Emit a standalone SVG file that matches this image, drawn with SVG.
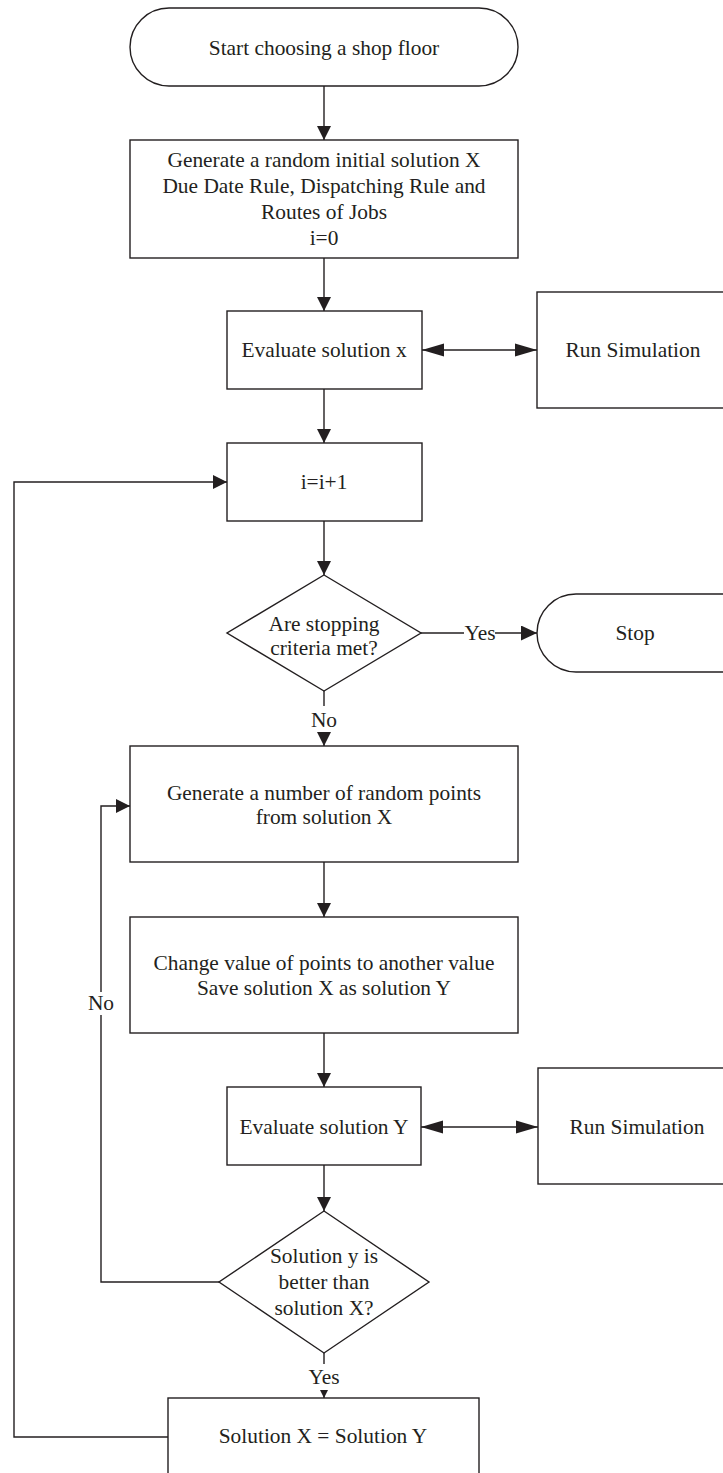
<svg xmlns="http://www.w3.org/2000/svg" width="723" height="1473" viewBox="0 0 723 1473">
<style>
.n{fill:#fff;stroke:#231f20;stroke-width:1.4}
.t{font-family:"Liberation Serif","Times New Roman",serif;font-size:21.4px;fill:#231f20;text-anchor:middle}
.c{fill:none;stroke:#231f20;stroke-width:1.4}
</style>
<defs>
<marker id="a" markerUnits="userSpaceOnUse" markerWidth="14" markerHeight="14" refX="14" refY="7" orient="auto"><path d="M0,0 L14,7 L0,14 z" fill="#231f20"/></marker>
<marker id="al" markerUnits="userSpaceOnUse" markerWidth="22" markerHeight="14" refX="22" refY="7" orient="auto-start-reverse"><path d="M0,0.5 L22,7 L0,13.5 z" fill="#231f20"/></marker>
<marker id="am" markerUnits="userSpaceOnUse" markerWidth="16" markerHeight="15" refX="16" refY="7.5" orient="auto"><path d="M0,0 L16,7.5 L0,15 z" fill="#231f20"/></marker>
<marker id="as" markerUnits="userSpaceOnUse" markerWidth="8" markerHeight="8" refX="8" refY="4" orient="auto"><path d="M0,0 L8,4 L0,8 z" fill="#231f20"/></marker>
</defs>
<g id="connectors">
<path class="c" d="M324,86 V140" marker-end="url(#a)"/>
<path class="c" d="M324,258 V311" marker-end="url(#a)"/>
<path class="c" d="M422,350 H537" marker-start="url(#al)" marker-end="url(#al)"/>
<path class="c" d="M324,389 V443" marker-end="url(#a)"/>
<path class="c" d="M324,521 V575" marker-end="url(#a)"/>
<path class="c" d="M421,633 H464"/>
<path class="c" d="M495,633 H537" marker-end="url(#am)"/>
<path class="c" d="M324,691 V706"/>
<path class="c" d="M324,734 V746" marker-end="url(#a)"/>
<path class="c" d="M324,862 V917" marker-end="url(#a)"/>
<path class="c" d="M324,1033 V1087" marker-end="url(#a)"/>
<path class="c" d="M421,1127 H538" marker-start="url(#al)" marker-end="url(#al)"/>
<path class="c" d="M324,1165 V1211" marker-end="url(#a)"/>
<path class="c" d="M324,1353 V1364"/>
<path class="c" d="M324,1391 V1398" marker-end="url(#as)"/>
<path class="c" d="M219,1282 H101 V1015"/>
<path class="c" d="M101,992 V806 H130" marker-end="url(#a)"/>
<path class="c" d="M168,1437 H14 V482 H227" marker-end="url(#a)"/>
<text class="t" x="480" y="640">Yes</text>
<text class="t" x="324" y="727">No</text>
<text class="t" x="324" y="1384">Yes</text>
<text class="t" x="101" y="1010">No</text>
</g>
<g id="start"><rect class="n" x="130" y="8" width="388" height="78" rx="39"/><text class="t" x="324" y="55">Start choosing a shop floor</text></g>
<g id="init"><rect class="n" x="130" y="140" width="388" height="118"/>
<text class="t" x="324" y="167">Generate a random initial solution X</text>
<text class="t" x="324" y="193">Due Date Rule, Dispatching Rule and</text>
<text class="t" x="324" y="219">Routes of Jobs</text>
<text class="t" x="324" y="245">i=0</text></g>
<g id="evalx"><rect class="n" x="227" y="311" width="195" height="78"/><text class="t" x="324" y="357">Evaluate solution x</text></g>
<g id="sim1"><rect class="n" x="537" y="292" width="200" height="116"/><text class="t" x="633" y="357">Run Simulation</text></g>
<g id="inc"><rect class="n" x="227" y="443" width="195" height="78"/><text class="t" x="324" y="489">i=i+1</text></g>
<g id="stopq"><polygon class="n" points="324,575 421,633 324,691 227,633"/>
<text class="t" x="324" y="631">Are stopping</text>
<text class="t" x="324" y="655">criteria met?</text></g>
<g id="stop"><rect class="n" x="537" y="594" width="230" height="78" rx="39"/><text class="t" x="635" y="640">Stop</text></g>
<g id="gen"><rect class="n" x="130" y="746" width="388" height="116"/>
<text class="t" x="324" y="800">Generate a number of random points</text>
<text class="t" x="324" y="824">from solution X</text></g>
<g id="change"><rect class="n" x="130" y="917" width="388" height="116"/>
<text class="t" x="324" y="970">Change value of points to another value</text>
<text class="t" x="324" y="995">Save solution X as solution Y</text></g>
<g id="evaly"><rect class="n" x="227" y="1087" width="194" height="78"/><text class="t" x="324" y="1134">Evaluate solution Y</text></g>
<g id="sim2"><rect class="n" x="538" y="1068" width="200" height="116"/><text class="t" x="637" y="1134">Run Simulation</text></g>
<g id="better"><polygon class="n" points="324,1211 429,1282 324,1353 219,1282"/>
<text class="t" x="324" y="1263">Solution y is</text>
<text class="t" x="324" y="1289">better than</text>
<text class="t" x="324" y="1315">solution X?</text></g>
<g id="assign"><rect class="n" x="168" y="1398" width="311" height="82"/><text class="t" x="323" y="1443">Solution X = Solution Y</text></g>
</svg>
